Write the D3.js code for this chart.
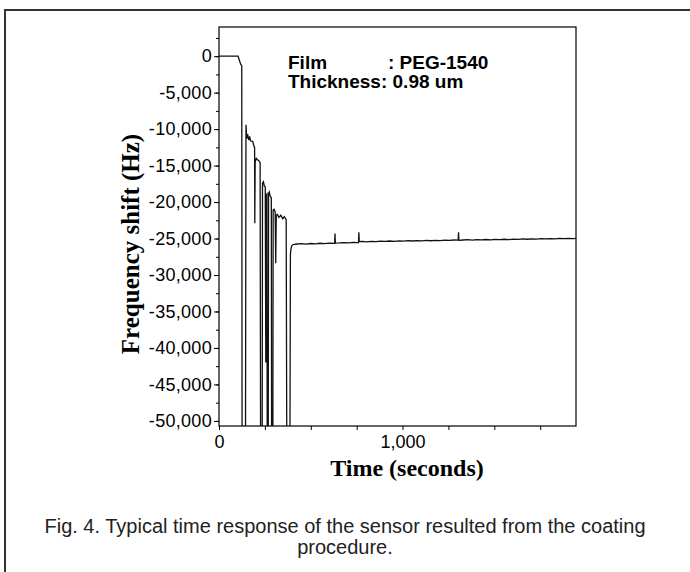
<!DOCTYPE html>
<html>
<head>
<meta charset="utf-8">
<script src="https://cdn.jsdelivr.net/npm/d3@7"></script>
<style>
  body { margin: 0; background: #fff; }
  svg { display: block; }
</style>
</head>
<body>
<script>
// time (s) and frequency shift (Hz)
// values of -60000 are off the bottom of the plot (clipped)
let time = [0, 104, 118, 124, 126, 144, 147, 151, 156, 162, 167, 172, 184, 190, 194, 195, 197, 203, 209, 216, 224, 227, 235, 237, 242, 247, 252, 255, 258, 261, 263, 268, 270, 274, 279, 285, 287, 293, 295, 300, 306, 309, 312, 318, 326, 337, 347, 356, 366, 370, 386, 389, 392, 396, 402, 412,
  425, 450, 475, 500, 525, 550, 575, 600, 625, 630, 632, 634, 655, 680, 705, 730, 755, 760, 762, 764, 780, 805, 830, 855, 880, 905, 930, 955, 980, 1005, 1030, 1055, 1080, 1105, 1130, 1155, 1180, 1205, 1230, 1255, 1280, 1303, 1305, 1307, 1330, 1355, 1380, 1405, 1430, 1455, 1480, 1505, 1530, 1555, 1580, 1605, 1630, 1655, 1680, 1705, 1730, 1755, 1780, 1805, 1830, 1855, 1880, 1905, 1930, 1945];
let shift = [0, 0, -1100, -1300, -60000, -60000, -9400, -11300, -10700, -11500, -11000, -11600, -11700, -12300, -12500, -22900, -14500, -14000, -14200, -14300, -14600, -60000, -60000, -17400, -17200, -17800, -17900, -42000, -19000, -18900, -60000, -60000, -18800, -18600, -19200, -19400, -60000, -60000, -21100, -21000, -21300, -28400, -21800, -21700, -22100, -21800, -22300, -22000, -22400, -60000, -60000, -27200, -26400, -26000, -25850, -25800,
  -25750, -25700, -25760, -25680, -25720, -25650, -25700, -25640, -25660, -25660, -24300, -25620, -25600, -25560, -25600, -25540, -25560, -25560, -24150, -25420, -25400, -25450, -25380, -25420, -25360, -25400, -25340, -25380, -25320, -25360, -25300, -25340, -25280, -25320, -25260, -25300, -25240, -25280, -25230, -25260, -25200, -25220, -24150, -25240, -25200, -25160, -25210, -25150, -25190, -25130, -25170, -25110, -25160, -25100, -25140, -25080, -25120, -25060, -25100, -25040, -25080, -25020, -25060, -25000, -25040, -24990, -25020, -24970, -25000, -24980];

let yTicks = [0, -5000, -10000, -15000, -20000, -25000, -30000, -35000, -40000, -45000, -50000];
let xTicks = [0, 250, 500, 750, 1000, 1250, 1500, 1750];
let xLabels = [0, 1000];
let annot = [["Film", ": PEG-1540"], ["Thickness: 0.98 um", ""]];
let caption = ["Fig. 4. Typical time response of the sensor resulted from the coating", "procedure."];

let width = 690, height = 572;
let plotL = 219, plotT = 27, plotR = 576, plotB = 426;

let svg = d3.select("body").append("svg")
  .attr("width", width)
  .attr("height", height);

// outer figure frame (only top and left edges are in view)
svg.append("path")
  .attr("d", "M5,572 L5,10 L690,10")
  .attr("fill", "none")
  .attr("stroke", "#333")
  .attr("stroke-width", 2);

let x = d3.scaleLinear().domain([0, 1945]).range([plotL, plotR]);
let y = d3.scaleLinear().domain([-50700, 4000]).range([plotB, plotT]);

let fmt = d => d3.format(",")(d).replace("\u2212", "-");

// clip for the trace
svg.append("clipPath").attr("id", "plot")
  .append("rect")
  .attr("x", plotL).attr("y", plotT)
  .attr("width", plotR - plotL).attr("height", plotB - plotT);

// minor y ticks
svg.append("g")
  .attr("transform", "translate(" + plotL + ",0)")
  .call(d3.axisLeft(y).tickValues(d3.range(2500, -50001, -2500)).tickSize(3).tickFormat(""))
  .call(g => g.select(".domain").remove());

// y axis
let yAxis = svg.append("g")
  .attr("transform", "translate(" + plotL + ",0)")
  .call(d3.axisLeft(y).tickValues(yTicks).tickSize(5).tickPadding(2).tickFormat(fmt));
yAxis.select(".domain").remove();
yAxis.selectAll("text")
  .attr("font-family", "Liberation Sans, Arial, sans-serif")
  .attr("font-size", 18)
  .attr("letter-spacing", 0.3)
  .attr("fill", "#000");

// x axis
let xAxis = svg.append("g")
  .attr("transform", "translate(0," + plotB + ")")
  .call(d3.axisBottom(x).tickValues(xTicks).tickSize(4).tickPadding(5)
    .tickFormat(d => xLabels.indexOf(d) >= 0 ? fmt(d) : ""));
xAxis.select(".domain").remove();
xAxis.selectAll("text")
  .attr("font-family", "Liberation Sans, Arial, sans-serif")
  .attr("font-size", 18)
  .attr("fill", "#000");

// plot frame
svg.append("rect")
  .attr("x", plotL).attr("y", plotT)
  .attr("width", plotR - plotL).attr("height", plotB - plotT)
  .attr("fill", "none")
  .attr("stroke", "#000")
  .attr("stroke-width", 1.2);

// trace
let pts = time.map((t, i) => [t, shift[i]]);
svg.append("path")
  .datum(pts)
  .attr("clip-path", "url(#plot)")
  .attr("fill", "none")
  .attr("stroke", "#111")
  .attr("stroke-width", 1.3)
  .attr("d", d3.line().x(d => x(d[0])).y(d => y(d[1])));

// annotation
let ann = svg.append("g")
  .attr("font-family", "Liberation Sans, Arial, sans-serif")
  .attr("font-size", 19)
  .attr("font-weight", "bold")
  .attr("fill", "#000");
annot.forEach((a, i) => {
  ann.append("text").attr("x", 288).attr("y", 69 + i * 19).text(a[0]);
  ann.append("text").attr("x", 388).attr("y", 69 + i * 19).text(a[1]);
});

// axis titles
svg.append("text")
  .attr("x", 407).attr("y", 476)
  .attr("text-anchor", "middle")
  .attr("font-family", "Liberation Serif, Times New Roman, serif")
  .attr("font-size", 24)
  .attr("font-weight", "bold")
  .text("Time (seconds)");

svg.append("text")
  .attr("transform", "translate(139,244) rotate(-90)")
  .attr("text-anchor", "middle")
  .attr("font-family", "Liberation Serif, Times New Roman, serif")
  .attr("font-size", 25)
  .attr("font-weight", "bold")
  .text("Frequency shift (Hz)");

// caption
svg.selectAll(".cap")
  .data(caption)
  .enter().append("text")
  .attr("class", "cap")
  .attr("x", 345)
  .attr("y", (d, i) => 533 + i * 21)
  .attr("text-anchor", "middle")
  .attr("font-family", "Liberation Sans, Arial, sans-serif")
  .attr("font-size", 20)
  .attr("fill", "#222")
  .text(d => d);
</script>
</body>
</html>
